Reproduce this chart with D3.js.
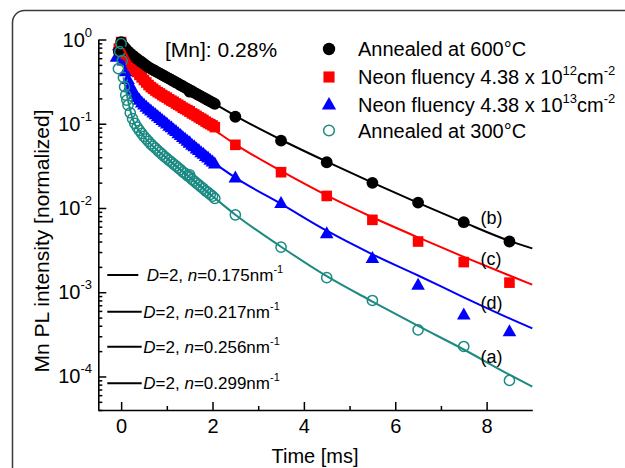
<!DOCTYPE html>
<html>
<head>
<meta charset="utf-8">
<script src="https://cdn.jsdelivr.net/npm/d3@7"></script>
<style>
  html, body { margin: 0; padding: 0; background: #fff; }
  svg { display: block; font-family: "Liberation Sans", Arial, sans-serif; }
</style>
</head>
<body>
<svg id="chart" width="625" height="468"></svg>
<script>
// ---- Data: normalized Mn PL decay traces (time in ms) ----
const seriesNames = ["Annealed at 600°C", "Neon fluency 4.38 x 10", "Neon fluency 4.38 x 10", "Annealed at 300°C"];
const fluenceExp = ["", "12", "13", ""];

// densely sampled part of each trace
const denseTimes = [0, 0.05, 0.1, 0.15, 0.2, 0.25, 0.3, 0.35, 0.4, 0.45, 0.5, 0.55, 0.6, 0.65, 0.7,
  0.75, 0.8, 0.85, 0.9, 0.95, 1.0, 1.05, 1.1, 1.15, 1.2, 1.25, 1.3, 1.35, 1.4, 1.45, 1.5, 1.55,
  1.6, 1.65, 1.7, 1.75, 1.8, 1.85, 1.9, 1.95, 2.0, 2.05];
const black600Dense = [0.933, 0.832, 0.776, 0.724, 0.684, 0.646, 0.617, 0.589, 0.562, 0.537, 0.513,
  0.490, 0.468, 0.452, 0.437, 0.422, 0.407, 0.394, 0.380, 0.367, 0.355, 0.343, 0.331, 0.320, 0.309,
  0.299, 0.288, 0.279, 0.269, 0.260, 0.251, 0.243, 0.234, 0.226, 0.219, 0.211, 0.204, 0.197, 0.191,
  0.184, 0.178, 0.172];
const neon12Dense = [0.933, 0.776, 0.676, 0.603, 0.537, 0.490, 0.447, 0.412, 0.380, 0.355, 0.331,
  0.309, 0.288, 0.272, 0.260, 0.248, 0.237, 0.229, 0.219, 0.211, 0.204, 0.195, 0.188, 0.182, 0.174,
  0.168, 0.162, 0.155, 0.150, 0.145, 0.140, 0.133, 0.129, 0.124, 0.119, 0.115, 0.111, 0.106, 0.102,
  0.0989, 0.0955, 0.0912];
const neon13Dense = [0.891, 0.562, 0.417, 0.339, 0.288, 0.251, 0.226, 0.207, 0.191, 0.178, 0.168,
  0.158, 0.150, 0.143, 0.135, 0.129, 0.122, 0.116, 0.110, 0.105, 0.100, 0.0944, 0.0902, 0.0851,
  0.0813, 0.0767, 0.0733, 0.0692, 0.0661, 0.0624, 0.0596, 0.0562, 0.0537, 0.0507, 0.0484, 0.0457,
  0.0437, 0.0412, 0.0394, 0.0372, 0.0355, 0.0335];
const teal300Dense = [0.891, 0.355, 0.219, 0.166, 0.135, 0.115, 0.101, 0.0912, 0.0832, 0.0767,
  0.0708, 0.0661, 0.0617, 0.0575, 0.0543, 0.0513, 0.0484, 0.0457, 0.0432, 0.0407, 0.0389, 0.0367,
  0.0351, 0.0331, 0.0316, 0.0299, 0.0285, 0.0269, 0.0257, 0.0243, 0.0232, 0.0219, 0.0209, 0.0197,
  0.0188, 0.0178, 0.0170, 0.0160, 0.0153, 0.0145, 0.0138, 0.0130];

// rising edge and extra early samples [time, value]
const black600Early = [[-0.05, 0.72]];
const neon12Early = [[-0.05, 0.78]];
const neon13Early = [[-0.1, 0.62], [-0.05, 0.85]];
const teal300Early = [[-0.06, 0.45], [-0.03, 0.72], [0.025, 0.56], [0.075, 0.275], [0.125, 0.191]];

// sparsely sampled tail
const sparseTimes = [1.5, 2.5, 3.5, 4.5, 5.5, 6.5, 7.5, 8.5];
const black600Sparse = [0.24, 0.121, 0.063, 0.0349, 0.0199, 0.0116, 0.00678, 0.0040];
const neon12Sparse = [0.140, 0.0562, 0.0266, 0.0139, 0.00723, 0.0040, 0.00228, 0.0013];
const neon13Sparse = [0.0596, 0.0229, 0.0114, 0.0050, 0.00254, 0.00122, 0.00054, 0.000342];
const teal300Sparse = [0.0247, 0.0083, 0.00343, 0.00149, 0.000798, 0.000358, 0.000227, 0.0000897];

// model curves (D=2)
const fitTimes = [0.05, 0.25, 0.5, 1, 1.5, 2, 2.5, 3.5, 4.5, 5.5, 6.5, 7.5, 8.5, 9];
const fitB = [0.832, 0.646, 0.513, 0.355, 0.251, 0.178, 0.124, 0.0646, 0.0355, 0.0200, 0.0115, 0.00676, 0.00407, 0.00331];
const fitC = [0.776, 0.490, 0.331, 0.200, 0.132, 0.0871, 0.0569, 0.0275, 0.0141, 0.00776, 0.00447, 0.00263, 0.00158, 0.00123];
const fitD = [0.562, 0.251, 0.168, 0.100, 0.0596, 0.0355, 0.0229, 0.0112, 0.00537, 0.00282, 0.00158, 0.000871, 0.000490, 0.000372];
const fitA = [0.355, 0.115, 0.0708, 0.0389, 0.0232, 0.0138, 0.00832, 0.00347, 0.00155, 0.000776, 0.000398, 0.000209, 0.000105, 0.0000759];
const fitLetters = ["(b)", "(c)", "(d)", "(a)"];
const fitLabelAt = [0.0076, 0.00253, 0.000752, 0.000172];

const fitLegendN = ["0.175", "0.217", "0.256", "0.299"];

const xTickMajor = [0, 2, 4, 6, 8];
const xTickMinor = [1, 3, 5, 7];
const yTickMajor = [1, 0.1, 0.01, 0.001, 0.0001];
const yTickExp = ["0", "-1", "-2", "-3", "-4"];

// ---- Drawing ----
const svg = d3.select("#chart");
const colors = ["#000000", "#ff0000", "#0000ff", "#1b8a82"];

// panel frame with rounded corner
svg.append("rect").attr("x", 12.5).attr("y", 10.5).attr("width", 900).attr("height", 900)
  .attr("rx", 12).attr("fill", "none").attr("stroke", "#3a3a3a").attr("stroke-width", 1.5);

const x = d3.scaleLinear().domain([-0.5, 9]).range([98.3, 532.3]);
const y = d3.scaleLog().domain([4e-5, 1]).range([410, 39.5]);

const toPts = (times, vals) => times.map((t, i) => [t, vals[i]]);
const series = [
  { dense: toPts(denseTimes, black600Dense).concat(black600Early), sparse: toPts(sparseTimes, black600Sparse), fit: fitB },
  { dense: toPts(denseTimes, neon12Dense).concat(neon12Early), sparse: toPts(sparseTimes, neon12Sparse), fit: fitC },
  { dense: toPts(denseTimes, neon13Dense).concat(neon13Early), sparse: toPts(sparseTimes, neon13Sparse), fit: fitD },
  { dense: toPts(denseTimes, teal300Dense).concat(teal300Early), sparse: toPts(sparseTimes, teal300Sparse), fit: fitA }
];

function drawMarker(g, kind, cx, cy, scale) {
  const s = scale || 1;
  if (kind === 0) {
    g.append("circle").attr("cx", cx).attr("cy", cy).attr("r", 5.9 * s).attr("fill", colors[0]);
  } else if (kind === 1) {
    const h = 5.3 * s;
    g.append("rect").attr("x", cx - h).attr("y", cy - h).attr("width", 2 * h).attr("height", 2 * h).attr("fill", colors[1]);
  } else if (kind === 2) {
    const w = 6.8 * s, ht = 12 * s;
    g.append("path").attr("d", `M${cx},${cy - ht * 0.6}L${cx + w},${cy + ht * 0.4}L${cx - w},${cy + ht * 0.4}Z`).attr("fill", colors[2]);
  } else {
    g.append("circle").attr("cx", cx).attr("cy", cy).attr("r", 5.1 * s).attr("fill", "none")
      .attr("stroke", colors[3]).attr("stroke-width", 1.5);
  }
}

// data markers: draw order keeps the open circles on top
const order = [2, 1, 0, 3];
const marks = svg.append("g");
order.forEach(k => {
  const g = marks.append("g");
  series[k].dense.concat(series[k].sparse).forEach(p => drawMarker(g, k, x(p[0]), y(p[1])));
});

// model curves
const line = d3.line().x(d => x(d[0])).y(d => y(d[1])).curve(d3.curveMonotoneX);
series.forEach((s, k) => {
  svg.append("path").datum(toPts(fitTimes, s.fit)).attr("d", line)
    .attr("fill", "none").attr("stroke", colors[k]).attr("stroke-width", 2);
});

// curve letters
fitLetters.forEach((t, k) => {
  svg.append("text").attr("x", 480.5).attr("y", y(fitLabelAt[k])).attr("dy", "0.35em")
    .attr("font-size", 18).attr("fill", "#000").text(t);
});

// axes
const xAxisMajor = d3.axisBottom(x).tickValues(xTickMajor).tickSize(-8).tickSizeOuter(0).tickPadding(9);
const gx = svg.append("g").attr("transform", "translate(0,410)").call(xAxisMajor);
gx.selectAll("text").attr("font-size", 20).attr("font-family", "Liberation Sans, Arial, sans-serif").attr("fill", "#000");
const gxm = svg.append("g").attr("transform", "translate(0,410)")
  .call(d3.axisBottom(x).tickValues(xTickMinor).tickSize(-4).tickSizeOuter(0).tickFormat(""));
gxm.select(".domain").remove();

const yMinor = y.ticks().filter(v => yTickMajor.indexOf(v) < 0 && v >= 4e-5 && v <= 1);
const gy = svg.append("g").attr("transform", "translate(98.3,0)")
  .call(d3.axisLeft(y).tickValues(yTickMajor).tickSize(-8).tickSizeOuter(0).tickFormat(""));
const gym = svg.append("g").attr("transform", "translate(98.3,0)")
  .call(d3.axisLeft(y).tickValues(yMinor).tickSize(-4).tickSizeOuter(0).tickFormat(""));
gym.select(".domain").remove();
[gx, gxm, gy, gym].forEach(g => {
  g.selectAll("line").attr("stroke", "#000").attr("stroke-width", 1.5);
  g.selectAll(".domain").attr("stroke", "#000").attr("stroke-width", 1.6);
});

yTickMajor.forEach((v, i) => {
  const t = svg.append("text").attr("x", 92).attr("y", y(v) + 7).attr("text-anchor", "end")
    .attr("font-size", 20).attr("fill", "#000");
  t.append("tspan").text("10");
  t.append("tspan").attr("dy", -10).attr("font-size", 13).text(yTickExp[i]);
});

// axis titles
svg.append("text").attr("x", 315).attr("y", 463).attr("text-anchor", "middle")
  .attr("font-size", 20).attr("fill", "#000").text("Time [ms]");
svg.append("text").attr("transform", "translate(49,241) rotate(-90)").attr("text-anchor", "middle")
  .attr("font-size", 21).attr("fill", "#000").text("Mn PL intensity [normalized]");

// sample annotation
svg.append("text").attr("x", 165).attr("y", 57).attr("font-size", 21).attr("fill", "#000").text("[Mn]: 0.28%");

// series legend
const legRows = [49, 77, 104.5, 130.5];
seriesNames.forEach((name, k) => {
  const g = svg.append("g");
  drawMarker(g, k, 329, legRows[k], 1.05);
  const t = g.append("text").attr("x", 358).attr("y", legRows[k] + 7).attr("font-size", 20).attr("fill", "#000");
  t.append("tspan").text(name);
  if (fluenceExp[k]) {
    t.append("tspan").attr("dy", -9).attr("font-size", 13).text(fluenceExp[k]);
    t.append("tspan").attr("dy", 9).text("cm");
    t.append("tspan").attr("dy", -9).attr("font-size", 13).text("-2");
  }
});

// model legend
const fitRows = [275, 311.7, 346.7, 383.3];
fitLegendN.forEach((n, k) => {
  const x0 = 107.3, x1 = k === 0 ? 138.3 : 141.7;
  svg.append("line").attr("x1", x0).attr("x2", x1).attr("y1", fitRows[k]).attr("y2", fitRows[k])
    .attr("stroke", "#000").attr("stroke-width", 2);
  const t = svg.append("text").attr("x", k === 0 ? 146.7 : 143.3).attr("y", fitRows[k] + 6)
    .attr("font-size", 17).attr("fill", "#000");
  t.append("tspan").attr("font-style", "italic").text("D");
  t.append("tspan").text("=2, ");
  t.append("tspan").attr("font-style", "italic").text("n");
  t.append("tspan").text("=" + n + "nm");
  t.append("tspan").attr("dy", -8).attr("font-size", 11).text("-1");
});
</script>
</body>
</html>
